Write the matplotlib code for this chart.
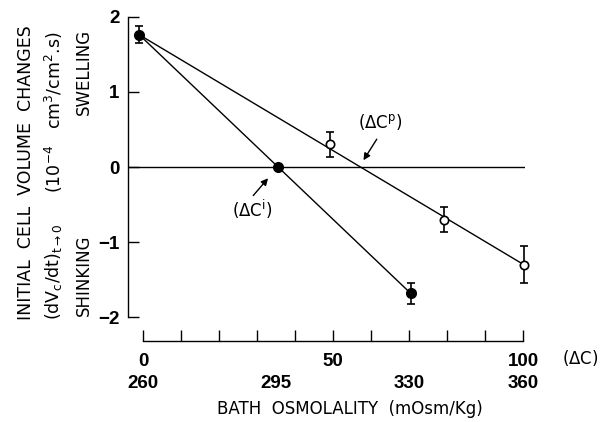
import numpy as np
import matplotlib
matplotlib.use("Agg")
import matplotlib.pyplot as plt

plt.rcParams.update({
    "font.family": ["DejaVu Sans"],
    "font.size": 12,
    "mathtext.fontset": "dejavusans",
    "mathtext.default": "regular",
})

# isotonic (filled) points: dC and initial volume change (1e-4 cm3/cm2.s)
dc_filled = [-1, 35.4, 70.4]
dv_filled = [1.76, 0.0, -1.68]
err_filled = [0.11, 0.0, 0.14]

# open points
dc_open = [49.3, 79.1, 100.2]
dv_open = [0.30, -0.70, -1.30]
err_open = [0.17, 0.17, 0.25]

# fitted lines (end points)
fit_i_x = [-1, 70.4]
fit_i_y = [1.76, -1.68]
fit_p_x = [-1, 100.2]
fit_p_y = [1.76, -1.30]

dc_ticks = [0, 10, 20, 30, 40, 50, 60, 70, 80, 90, 100]
dc_labels = ["0", "", "", "", "", "50", "", "", "", "", "100"]
osm_pos = [0, 35, 70, 100]
osm_labels = ["260", "295", "330", "360"]

NUM = dict(family="Liberation Sans", weight="bold", size=13.5)

W, H = 601, 422
fig = plt.figure(figsize=(W / 100, H / 100), dpi=100)

def fx(px):
    return px / W

def fy(py):
    return 1 - py / H

xlim = (-3.95, 100.5)
ax = fig.add_axes([fx(128), fy(317.3), fx(525) - fx(128), fy(16.7) - fy(317.3)])
ax.set_xlim(*xlim)
ax.set_ylim(-2, 2)
for s in ["top", "right", "bottom"]:
    ax.spines[s].set_visible(False)
ax.spines["left"].set_linewidth(1.0)
ax.set_xticks([])
ax.set_yticks([-2, -1, 0, 1, 2])
ax.set_yticklabels(["\u22122", "\u22121", "0", "1", "2"], fontdict=NUM)
ax.tick_params(axis="y", direction="in", length=8, width=1.0, pad=6)

ax.axhline(0, color="black", lw=1.0)
ax.plot(fit_i_x, fit_i_y, color="black", lw=1.0)
ax.plot(fit_p_x, fit_p_y, color="black", lw=1.0)

ax.errorbar(dc_filled, dv_filled, yerr=err_filled, fmt="o", color="black",
            ms=7, capsize=3, elinewidth=1.2, capthick=1.2, clip_on=False, zorder=5)
ax.errorbar(dc_open, dv_open, yerr=err_open, fmt="o", color="black", mfc="white",
            mec="black", ms=6, mew=1.2, capsize=3, elinewidth=1.2, capthick=1.2,
            clip_on=False, zorder=5)

arrow = dict(arrowstyle="-|>", color="black", lw=1.0, shrinkA=0, shrinkB=0,
             mutation_scale=10)
ax.text(28.7, -0.57, r"$(\Delta C^{i})$", ha="center", va="center", fontsize=12)
ax.annotate("", xy=(32.9, -0.15), xytext=(29.0, -0.38), arrowprops=arrow)
ax.text(62.3, 0.60, r"$(\Delta C^{p})$", ha="center", va="center", fontsize=12)
ax.annotate("", xy=(58.0, 0.09), xytext=(61.5, 0.37), arrowprops=arrow)

# separate concentration axis
ax2 = fig.add_axes([fx(128), fy(341), fx(525) - fx(128), 0.001])
ax2.set_xlim(*xlim)
ax2.set_ylim(0, 1)
for s in ["top", "right", "left"]:
    ax2.spines[s].set_visible(False)
ax2.spines["bottom"].set_bounds(0, 100)
ax2.spines["bottom"].set_linewidth(1.0)
ax2.set_yticks([])
ax2.set_xticks(dc_ticks)
ax2.set_xticklabels(dc_labels, fontdict=NUM)
ax2.tick_params(axis="x", direction="in", length=8, width=1.0, pad=9)
for p, lab in zip(osm_pos, osm_labels):
    fig.text(fx(143.3 + p * 3.8), fy(383), lab, ha="center", va="center", fontdict=NUM)
fig.text(fx(580), fy(358), r"$(\Delta C)$", ha="center", va="center", fontsize=12)
fig.text(fx(350), fy(409), "BATH  OSMOLALITY  (mOsm/Kg)", ha="center", va="center",
         fontsize=12)

# y-axis labels
fig.text(fx(26), fy(173), "INITIAL  CELL  VOLUME  CHANGES", rotation=90,
         ha="center", va="center", fontsize=12.5)
fig.text(fx(54), fy(112), r"(10$^{-4}$   cm$^{3}$/cm$^{2}$.s)", rotation=90,
         ha="center", va="center", fontsize=12.5)
fig.text(fx(54), fy(272), r"(dV$_{c}$/dt)$_{t\rightarrow0}$", rotation=90,
         ha="center", va="center", fontsize=12.5)
fig.text(fx(84), fy(72), "SWELLING", rotation=90, ha="center", va="center", fontsize=12)
fig.text(fx(84), fy(275), "SHINKING", rotation=90, ha="center", va="center", fontsize=12)

fig.savefig("out.png", dpi=100)
